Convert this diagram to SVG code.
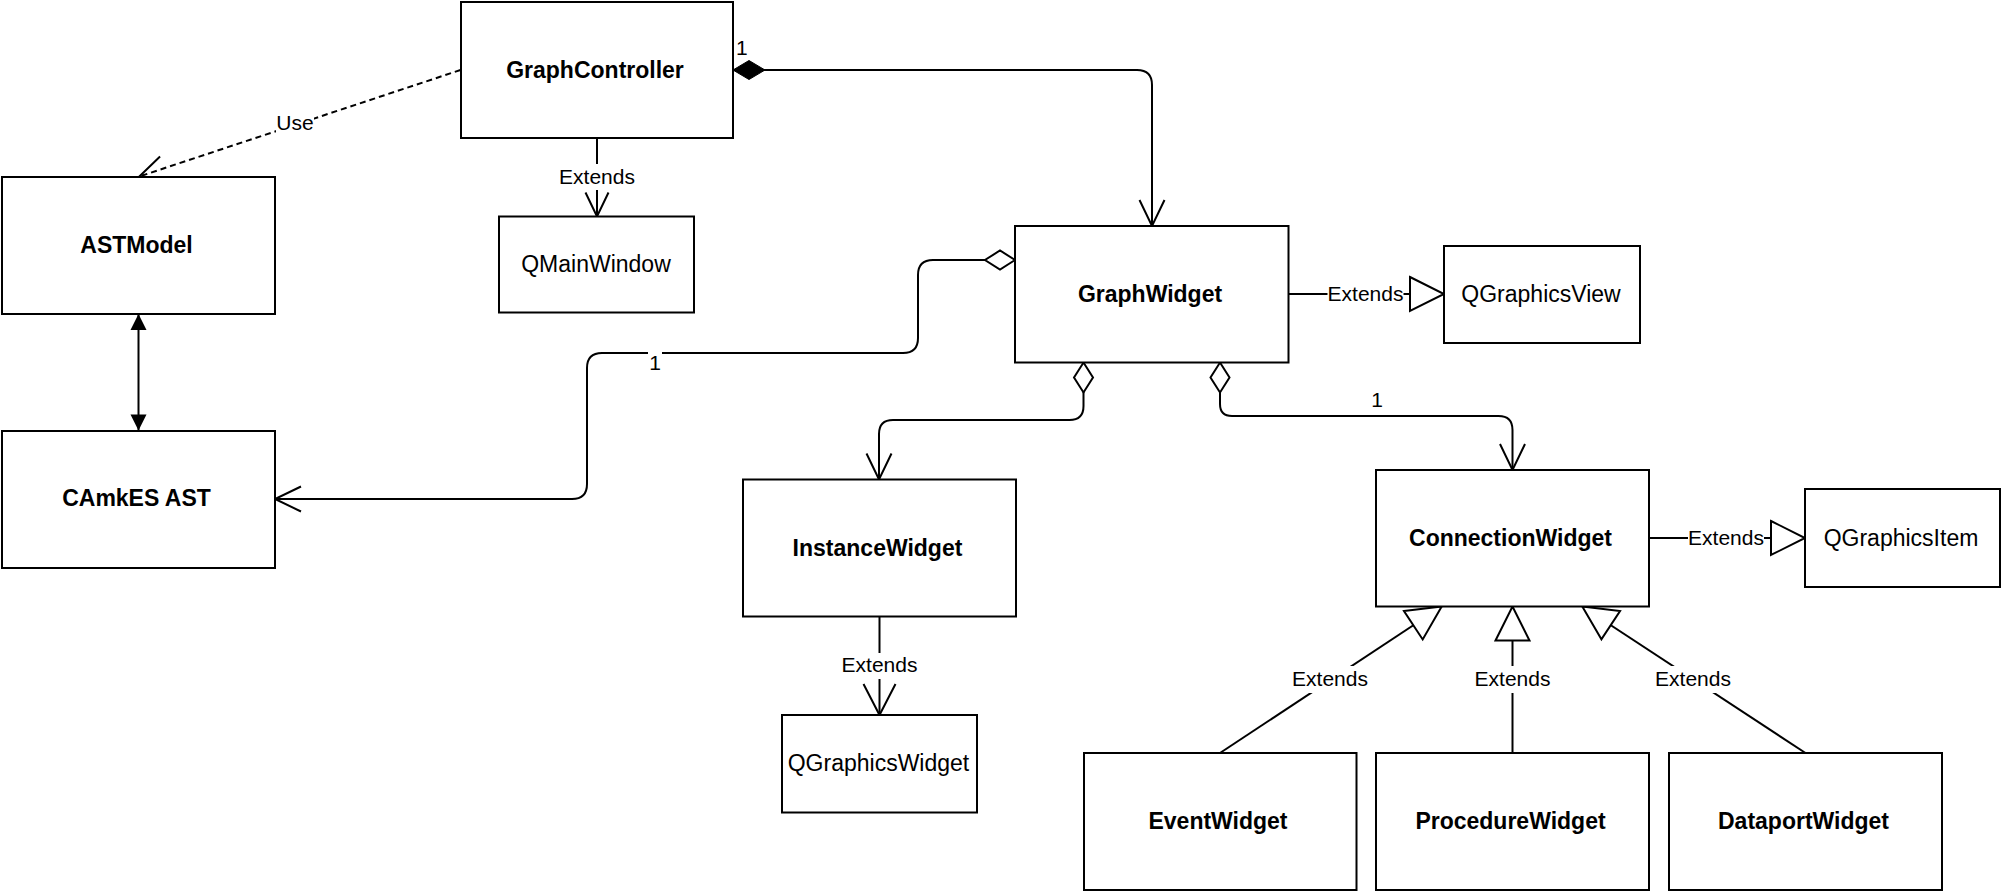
<svg xmlns="http://www.w3.org/2000/svg" width="2003" height="892" viewBox="0 0 2003 892">
<style>
.box{fill:#fff;stroke:#000;stroke-width:2}
.t{font-family:"Liberation Sans",Arial,Helvetica,sans-serif;font-size:23px;text-anchor:middle;fill:#000}
.b{font-weight:bold}
.lbl{font-family:"Liberation Sans",Arial,Helvetica,sans-serif;font-size:21px;text-anchor:middle;fill:#000}
.bg{fill:#fff;stroke:none}
.e{fill:none;stroke:#000;stroke-width:2}
.dash{stroke-dasharray:6 4}
</style>
<defs>
<marker id="nav" markerUnits="userSpaceOnUse" viewBox="-32 -16 36 32" markerWidth="36" markerHeight="32" refX="0" refY="0" orient="auto" overflow="visible"><path d="M-26,-12.5 L0,0 L-26,12.5" fill="none" stroke="#000" stroke-width="2"/></marker>
<marker id="navSmall" markerUnits="userSpaceOnUse" viewBox="-32 -16 36 32" markerWidth="36" markerHeight="32" refX="0" refY="0" orient="auto" overflow="visible"><path d="M-24,-11.5 L0,0 L-24,11.5" fill="none" stroke="#000" stroke-width="2"/></marker>
<marker id="navLarge" markerUnits="userSpaceOnUse" viewBox="-36 -20 40 40" markerWidth="40" markerHeight="40" refX="0" refY="0" orient="auto" overflow="visible"><path d="M-31,-16 L0,0 L-31,16" fill="none" stroke="#000" stroke-width="2"/></marker>
<marker id="tri" markerUnits="userSpaceOnUse" viewBox="-38 -20 42 40" markerWidth="42" markerHeight="40" refX="0" refY="0" orient="auto" overflow="visible"><path d="M-34,-17 L0,0 L-34,17 Z" fill="#fff" stroke="#000" stroke-width="2"/></marker>
<marker id="dFill" markerUnits="userSpaceOnUse" viewBox="-2 -12 36 24" markerWidth="36" markerHeight="24" refX="0" refY="0" orient="auto" overflow="visible"><path d="M0,0 L16,-9.5 L32,0 L16,9.5 Z" fill="#000" stroke="#000" stroke-width="1"/></marker>
<marker id="dOpen" markerUnits="userSpaceOnUse" viewBox="-2 -12 34 24" markerWidth="34" markerHeight="24" refX="0" refY="0" orient="auto" overflow="visible"><path d="M0,0 L15,-9.5 L30,0 L15,9.5 Z" fill="#fff" stroke="#000" stroke-width="2"/></marker>
<marker id="block" markerUnits="userSpaceOnUse" viewBox="-18 -10 20 20" markerWidth="20" markerHeight="20" refX="0" refY="0" orient="auto-start-reverse" overflow="visible"><path d="M-16,-8 L0,0 L-16,8 Z" fill="#000"/></marker>
</defs>

<g id="connectors">
  <path class="e dash" d="M460.5,70 L139.3,176.5" marker-end="url(#nav)"/>
  <path class="e" d="M597,138 L597,216.5" marker-end="url(#navSmall)"/>
  <path class="e" d="M733,70 L1137,70 Q1152,70 1152,85 L1152,226" marker-start="url(#dFill)" marker-end="url(#nav)"/>
  <path class="e" d="M138.5,314 L138.5,430.5" marker-start="url(#block)" marker-end="url(#block)"/>
  <path class="e" d="M1015,260 L933,260 Q918,260 918,275 L918,338 Q918,353 903,353 L602,353 Q587,353 587,368 L587,484 Q587,499 572,499 L275,499" marker-start="url(#dOpen)" marker-end="url(#nav)"/>
  <path class="e" d="M1288.5,294 L1444,294" marker-end="url(#tri)"/>
  <path class="e" d="M1083.5,362.5 L1083.5,406 Q1083.5,420 1069.5,420 L893,420 Q879,420 879,434 L879,479.5" marker-start="url(#dOpen)" marker-end="url(#nav)"/>
  <path class="e" d="M1220,362.5 L1220,404 Q1220,416 1232,416 L1498.5,416 Q1512.5,416 1512.5,430 L1512.5,470" marker-start="url(#dOpen)" marker-end="url(#nav)"/>
  <path class="e" d="M879.5,616.5 L879.5,715" marker-end="url(#navLarge)"/>
  <path class="e" d="M1649,538 L1805,538" marker-end="url(#tri)"/>
  <path class="e" d="M1220,753 L1441.7,606.5" marker-end="url(#tri)"/>
  <path class="e" d="M1512.5,753 L1512.5,606.5" marker-end="url(#tri)"/>
  <path class="e" d="M1805.5,753 L1582.3,606.5" marker-end="url(#tri)"/>

  <g id="labels">
    <rect class="bg" x="276" y="111" width="38" height="24"/>
    <text class="lbl" x="295" y="130">Use</text>
    <rect class="bg" x="559" y="164" width="76" height="26"/>
    <text class="lbl" x="597" y="183.5">Extends</text>
    <text class="lbl" x="736" y="55" style="text-anchor:start">1</text>
    <rect class="bg" x="648" y="350" width="14" height="24"/>
    <text class="lbl" x="655" y="370">1</text>
    <rect class="bg" x="1327.5" y="281" width="76" height="26"/>
    <text class="lbl" x="1365.5" y="300.5">Extends</text>
    <text class="lbl" x="1100" y="354">1</text>
    <text class="lbl" x="1377" y="406.5">1</text>
    <rect class="bg" x="841.5" y="653" width="76" height="26"/>
    <text class="lbl" x="879.5" y="672">Extends</text>
    <rect class="bg" x="1688" y="525" width="76" height="26"/>
    <text class="lbl" x="1726" y="544.5">Extends</text>
    <rect class="bg" x="1292" y="666" width="76" height="27"/>
    <text class="lbl" x="1330" y="686">Extends</text>
    <rect class="bg" x="1474.5" y="666" width="76" height="27"/>
    <text class="lbl" x="1512.5" y="686">Extends</text>
    <rect class="bg" x="1655" y="666" width="76" height="27"/>
    <text class="lbl" x="1693" y="686">Extends</text>
  </g>
</g>

<g id="GraphController"><rect class="box" x="461" y="2" width="272" height="136"/><text class="t b" x="595" y="77.5">GraphController</text></g>
<g id="ASTModel"><rect class="box" x="2" y="177" width="273" height="137"/><text class="t b" x="136.5" y="253">ASTModel</text></g>
<g id="CAmkESAST"><rect class="box" x="2" y="431" width="273" height="137"/><text class="t b" x="136.5" y="506">CAmkES AST</text></g>
<g id="QMainWindow"><rect class="box" x="499" y="216.5" width="195" height="96"/><text class="t" x="596" y="272">QMainWindow</text></g>
<g id="GraphWidget"><rect class="box" x="1015" y="226" width="273.5" height="136.5"/><text class="t b" x="1150" y="301.5">GraphWidget</text></g>
<g id="QGraphicsView"><rect class="box" x="1444" y="246" width="196" height="97"/><text class="t" x="1541" y="302">QGraphicsView</text></g>
<g id="InstanceWidget"><rect class="box" x="743" y="479.5" width="273" height="137"/><text class="t b" x="877.5" y="555.5">InstanceWidget</text></g>
<g id="QGraphicsWidget"><rect class="box" x="782" y="715" width="195" height="97.5"/><text class="t" x="878.5" y="771">QGraphicsWidget</text></g>
<g id="ConnectionWidget"><rect class="box" x="1376" y="470" width="273" height="136.5"/><text class="t b" x="1510.5" y="545.5">ConnectionWidget</text></g>
<g id="QGraphicsItem"><rect class="box" x="1805" y="489" width="195" height="98"/><text class="t" x="1901" y="545.5">QGraphicsItem</text></g>
<g id="EventWidget"><rect class="box" x="1084" y="753" width="272.5" height="137"/><text class="t b" x="1218" y="829">EventWidget</text></g>
<g id="ProcedureWidget"><rect class="box" x="1376" y="753" width="273" height="137"/><text class="t b" x="1510.5" y="829">ProcedureWidget</text></g>
<g id="DataportWidget"><rect class="box" x="1669" y="753" width="273" height="137"/><text class="t b" x="1803.5" y="829">DataportWidget</text></g>
</svg>
